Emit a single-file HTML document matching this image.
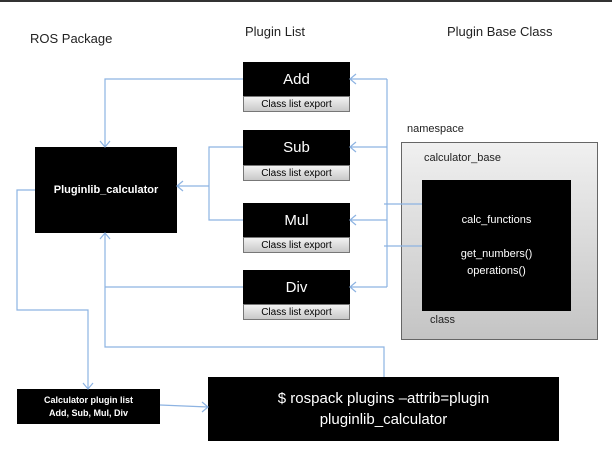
<!DOCTYPE html>
<html><head><style>
body{margin:0;width:612px;height:455px;background:#fff;position:relative;overflow:hidden;font-family:"Liberation Sans",sans-serif}
.t{position:absolute;font-size:13px;color:#222;white-space:nowrap}
.b{position:absolute;background:#000;color:#fff;display:flex;align-items:center;justify-content:center;text-align:center}
.e{position:absolute;background:linear-gradient(#f2f2f2,#c8c8c8);border:1px solid #777;box-sizing:border-box;font-size:10px;display:flex;align-items:center;justify-content:center;color:#000}
</style></head><body>
<div style="position:absolute;left:0;top:0;width:612px;height:2px;background:#333"></div>
<div class="t" style="left:30px;top:31px">ROS Package</div>
<div class="t" style="left:245px;top:24px">Plugin List</div>
<div class="t" style="left:447px;top:24px">Plugin Base Class</div>
<div class="b" style="left:35px;top:147px;width:142px;height:86px;font-size:11px;font-weight:bold">Pluginlib_calculator</div>
<div class="b" style="left:243px;top:62px;width:107px;height:34px;font-size:15px">Add</div>
<div class="e" style="left:243px;top:96px;width:107px;height:16px">Class list export</div>
<div class="b" style="left:243px;top:130px;width:107px;height:35px;font-size:15px">Sub</div>
<div class="e" style="left:243px;top:165px;width:107px;height:16px">Class list export</div>
<div class="b" style="left:243px;top:203px;width:107px;height:34px;font-size:15px">Mul</div>
<div class="e" style="left:243px;top:237px;width:107px;height:16px">Class list export</div>
<div class="b" style="left:243px;top:270px;width:107px;height:34px;font-size:15px">Div</div>
<div class="e" style="left:243px;top:304px;width:107px;height:16px">Class list export</div>
<div class="t" style="left:407px;top:123px;font-size:11px">namespace</div>
<div style="position:absolute;left:401px;top:142px;width:195px;height:196px;border:1px solid #666;background:linear-gradient(#f0f0f0,#c4c4c4)"></div>
<div class="t" style="left:424px;top:152px;font-size:11px">calculator_base</div>
<div class="b" style="left:422px;top:180px;width:149px;height:131px;font-size:11px;line-height:17px;flex-direction:column">calc_functions<br><br>get_numbers()<br>operations()</div>
<div class="t" style="left:430px;top:314px;font-size:11px">class</div>
<div class="b" style="left:17px;top:389px;width:143px;height:35px;font-size:9px;line-height:13px;font-weight:bold">Calculator plugin list<br>Add, Sub, Mul, Div</div>
<div class="b" style="left:208px;top:377px;width:351px;height:64px;font-size:15px;line-height:21px">$ rospack plugins –attrib=plugin<br>pluginlib_calculator</div>
<svg width="612" height="455" style="position:absolute;left:0;top:0" fill="none" stroke="#8db3e2" stroke-width="1.2">
<path d="M243 79H105V147M100 141L105 147L110 141"/>
<path d="M387 79V287M384 204H422M384 246H422"/>
<path d="M387 79H350M356 74L350 79L356 84M387 147H350M356 142L350 147L356 152M387 220H350M356 215L350 220L356 225M387 287H350M356 282L350 287L356 292"/>
<path d="M243 147H209V220H243M209 186H177M183 181L177 186L183 191"/>
<path d="M243 287H105V233M100 239L105 233L110 239M105 287V347H384V377"/>
<path d="M35 190H17V310H88V389M83 383L88 389L93 383"/>
<path d="M160 405L208 407M202 402L208 407L202 412"/>
</svg>
</body></html>
